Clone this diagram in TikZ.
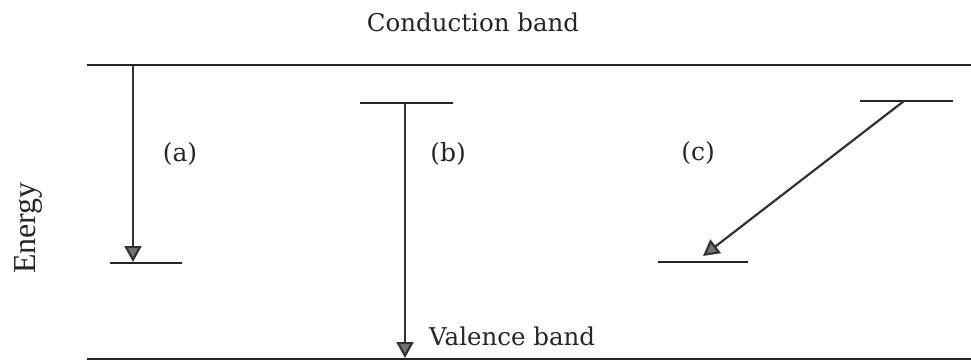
\documentclass[tikz,border=0pt]{standalone}
\usepackage{fontspec}
\setmainfont{DejaVu Serif}
\newfontfamily\timesf{Liberation Serif}
\usetikzlibrary{arrows.meta}
\tikzset{
  band/.style={line width=2.4pt, draw=black!85},
  level/.style={line width=2.2pt, draw=black!85},
  trans/.style={line width=2.2pt, draw=black!80, -{Triangle[width=17pt,length=16pt,fill=black!55]}},
  lbl/.style={font=\fontsize{24.5}{28}\selectfont, text=black!85, inner sep=0pt},
  tag/.style={font=\fontsize{25}{28}\selectfont, text=black!85, inner sep=0pt}
}
\begin{document}
\begin{tikzpicture}[x=1pt,y=-1pt]
\useasboundingbox (0,0) rectangle (971,362);
% bands
\coordinate (cbL) at (87,65);
\coordinate (cbR) at (971,65);
\coordinate (vbL) at (87,359);
\coordinate (vbR) at (971,359);
\draw[band] (cbL) -- (cbR);
\draw[band] (vbL) -- (vbR);
% levels
\coordinate (aL) at (110,263); \coordinate (aR) at (182,263);
\coordinate (bL) at (360,103); \coordinate (bR) at (453,103);
\coordinate (cL) at (860,101); \coordinate (cR) at (953,101);
\coordinate (dL) at (658,262); \coordinate (dR) at (748,262);
\draw[level] (aL) -- (aR);
\draw[level] (bL) -- (bR);
\draw[level] (cL) -- (cR);
\draw[level] (dL) -- (dR);
% transitions
\coordinate (a0) at (133,65);  \coordinate (a1) at (133,262);
\coordinate (b0) at (405,103); \coordinate (b1) at (405,358);
\coordinate (c0) at (904,101); \coordinate (c1) at (703,256);
\draw[trans] (a0) -- (a1);
\draw[trans] (b0) -- (b1);
\draw[trans] (c0) -- (c1);
% labels
\node[lbl] (cb) at (473,22) {Conduction band};
\node[lbl, anchor=west] (vb) at (429,336) {Valence band};
\node[tag] (la) at (180,154) {(a)};
\node[tag] (lb) at (448,154) {(b)};
\node[tag] (lc) at (698,153) {(c)};
\node[font=\timesf\fontsize{32}{34}\selectfont, text=black!85, rotate=90, inner sep=0pt] (en) at (28,228) {Energy};
\end{tikzpicture}
\end{document}
